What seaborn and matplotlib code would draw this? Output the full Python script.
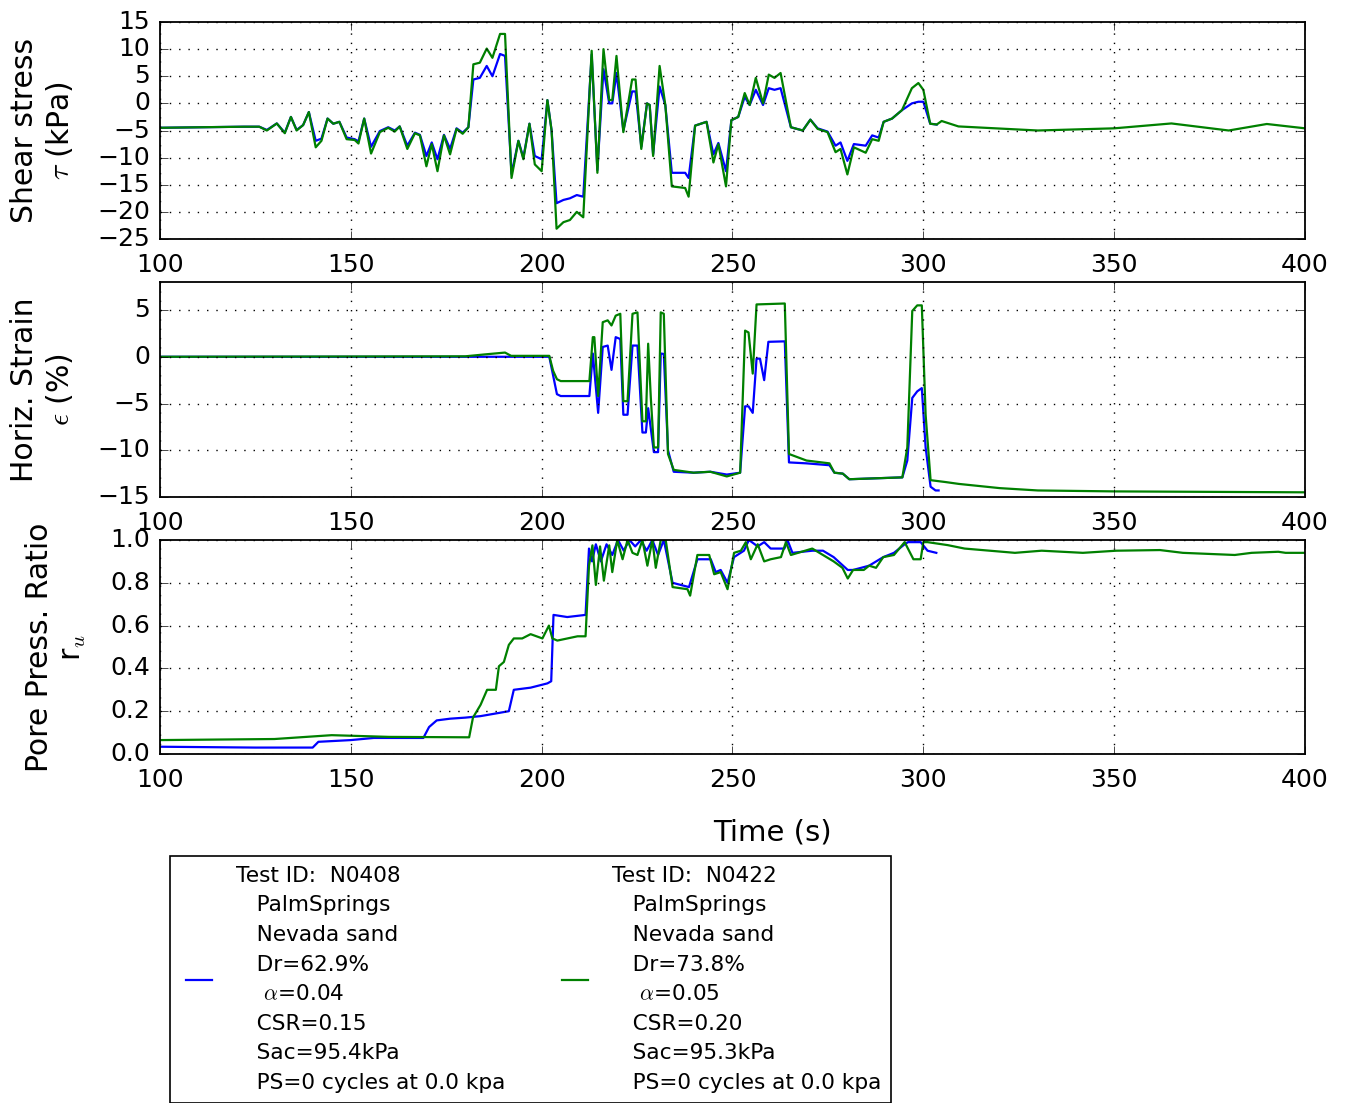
import pandas as pd
import matplotlib
matplotlib.use("Agg")
import matplotlib.pyplot as plt
import seaborn as sns

# two tests compared in the chart
tests = ["N0408", "N0422"]
colors = {"N0408": "#0000ff", "N0422": "#008000"}
dr = ["62.9", "73.8"]
alpha = ["0.04", "0.05"]
csr = ["0.15", "0.20"]
sac = ["95.4", "95.3"]

# shear stress (kPa)
shear_time = [100, 122, 126, 128, 130.6, 132.7, 134.3, 135.8, 137.5, 139, 140.8, 142.3,
              143.9, 145.4, 147, 148.9, 151, 152, 153.5, 155.3, 157.6, 159.8, 161.5, 162.8,
              164.8, 166.8, 168.1, 169.8, 171.2, 172.7, 174.4, 176, 177.7, 179.3, 180.8, 182.1,
              183.8, 185.6, 187.1, 189.1, 190.4, 192.1, 193.9, 195.2, 196.8, 198.2, 200, 201.5,
              202.6, 203.9, 205.7, 207.4, 209.2, 210.9, 213.1, 214.6, 216.2, 217.7, 218.5, 219.6,
              221.4, 223.7, 224.6, 226.1, 227.6, 228.3, 229.2, 230.9, 232.4, 234.1, 237.6, 238.5,
              240.2, 243.2, 245, 246.3, 248.3, 249.7, 251.5, 253.2, 254.5, 256.1, 258, 259.5,
              261, 262.6, 265.3, 268.4, 270.4, 272.3, 274.9, 277, 278.3, 280.1, 281.8, 284.9,
              286.6, 288.3, 289.6, 291.8, 294.4, 297, 298.7, 300, 301.8, 303.5,
              304.8, 309.2, 330, 350, 365, 380, 390, 400]
shear_n0422 = [-4.5, -4.3, -4.3, -5.0, -3.7, -5.5, -2.5, -5.0, -4.0, -1.6, -8.1, -6.9,
               -2.8, -3.75, -3.4, -6.6, -6.75, -7.4, -2.8, -9.25, -5.3, -4.5, -5.2, -4.25,
               -8.4, -5.5, -5.9, -11.6, -7.5, -12.5, -5.9, -9.4, -4.7, -5.6, -4.4, 7.2,
               7.5, 10.1, 8.4, 12.8, 12.8, -13.75, -6.9, -10.3, -3.75, -11.25, -12.5, 0.6,
               -5.0, -23.1, -21.9, -21.5, -20.0, -21.0, 9.7, -12.8, 10.0, 0.6, 0.6, 8.75,
               -5.3, 4.4, 4.4, -8.4, 0.0, -0.3, -9.7, 6.9, -0.3, -15.3, -15.6, -17.2,
               -4.1, -3.4, -10.9, -7.5, -15.3, -3.1, -2.5, 1.9, -0.3, 4.7, 0.0, 5.3,
               4.7, 5.6, -4.4, -5.0, -3.0, -4.7, -5.3, -9.0, -8.4, -13.1, -8.1, -9.1,
               -6.6, -6.9, -3.4, -2.8, -1.25, 2.8, 3.75, 2.5, -3.75, -3.9,
               -3.25, -4.25, -5.0, -4.6, -3.7, -5.0, -3.8, -4.6]
shear_n0408 = [-4.5, -4.3, -4.3, -4.9, -3.7, -5.4, -2.5, -4.9, -4.0, -1.6, -6.9, -6.5,
               -2.8, -3.75, -3.4, -6.3, -6.6, -7.0, -2.8, -8.0, -5.1, -4.4, -5.0, -4.25,
               -7.8, -5.4, -5.8, -9.7, -7.2, -10.3, -5.8, -8.4, -4.6, -5.4, -4.4, 4.4,
               4.7, 6.9, 5.0, 9.1, 8.75, -13.0, -6.9, -10.0, -3.75, -9.7, -10.3, 0.6,
               -5.0, -18.4, -17.8, -17.5, -16.9, -17.2, 9.0, -12.3, 6.3, 0.0, 0.0, 5.6,
               -5.0, 2.2, 2.2, -8.0, 0.0, -0.3, -9.4, 3.1, -0.3, -12.8, -12.8, -13.75,
               -4.1, -3.4, -9.4, -7.3, -12.5, -3.1, -2.5, 1.2, -0.3, 2.5, -0.3, 2.8,
               2.5, 2.8, -4.4, -5.0, -3.0, -4.6, -5.2, -7.8, -7.2, -10.6, -7.5, -7.8,
               -5.9, -6.3, -3.4, -2.8, -1.25, 0.0, 0.3, 0.3, -3.75, -3.9]

# horizontal strain (%)
strain_time_n0408 = [100, 202, 203, 204, 205, 212.5, 213.4, 214.8, 216, 217.3, 218.3, 219.4,
                     220.6, 221.4, 222.5, 223.8, 225.1, 226.4, 227.3, 227.9, 229.4, 230.5,
                     231.2, 232.0, 233.1, 234.6, 239.8, 244.2, 248.5, 252, 253.3, 254.2,
                     255.3, 256.3, 257.2, 258.3, 259.4, 263.7, 264.8, 269.4, 275.4, 276.7,
                     278.9, 280.6, 294.5, 295.8, 297.1, 298.4, 299.6, 300.6, 301.9, 303.2, 304]
strain_n0408 = [0.0, 0.0, -2.0, -4.0, -4.2, -4.2, 0.35, -6.0, 1.05, 1.2, -1.4, 2.1,
                1.9, -6.2, -6.2, 1.2, 1.2, -8.1, -8.1, -5.5, -10.2, -10.2,
                0.35, 0.3, -10.0, -12.3, -12.4, -12.3, -12.6, -12.4, -5.3, -5.3,
                -6.0, -0.2, -0.2, -2.5, 1.6, 1.65, -11.3, -11.4, -11.6, -12.4,
                -12.5, -13.1, -12.9, -11.1, -4.4, -3.7, -3.35, -9.7, -13.9, -14.3, -14.3]
strain_time_n0422 = [100, 180, 185, 190.4, 192, 202, 203, 204, 205, 212.5, 213.4, 213.8,
                     214.8, 216, 217.3, 218.3, 219.4, 220.6, 221.4, 222.5, 223.8, 225.1,
                     226.4, 227.3, 227.9, 228.6, 229.4, 230.5, 231.2, 232.0, 233.1, 234.6,
                     239.8, 244.2, 248.5, 252, 253.3, 254.2, 255.3, 256.3, 263.7, 264.8,
                     269.4, 275.4, 276.7, 278.9, 280.6, 294.5, 295.8, 297.1, 298.4, 299.6,
                     300.6, 301.9, 305.8, 309.3, 320, 330, 350, 400]
strain_n0422 = [0.0, 0.05, 0.25, 0.45, 0.1, 0.1, -1.5, -2.4, -2.6, -2.6, 2.1, 2.1,
                -4.2, 3.7, 3.9, 3.35, 4.4, 4.6, -4.75, -4.75, 4.6, 4.75,
                -6.9, -6.9, 1.4, -4.4, -9.7, -9.7, 4.75, 4.6, -10.4, -12.1,
                -12.4, -12.3, -12.8, -12.4, 2.8, 2.6, -1.8, 5.6, 5.7, -10.4,
                -11.1, -11.4, -12.4, -12.5, -13.1, -12.9, -9.7, 4.9, 5.5, 5.5,
                -6.2, -13.2, -13.4, -13.6, -14.05, -14.3, -14.4, -14.5]

# pore pressure ratio r_u
ru_time_n0408 = [100, 125, 140, 141.5, 150, 156, 169, 170.5, 172.5, 176, 180, 184, 191.4,
                 192.7, 197.1, 201.5, 202.5, 203.1, 206.7, 211.5, 212.4, 213.2, 214.2, 215.5,
                 217, 218.5, 220, 221.5, 223, 224.5, 226, 227.5, 229, 230.5, 232, 234.3,
                 238.6, 240.8, 244.3, 245.6, 246.9, 248.7, 250.4, 253, 254.3, 256.6, 258.3,
                 260, 263.6, 264.4, 265.7, 270.9, 273.7, 276.5, 280.2, 281.6, 285.8, 289.5,
                 292.3, 295.1, 296, 299.3, 300.2, 301.1, 303.4]
ru_n0408 = [0.034, 0.03, 0.03, 0.057, 0.065, 0.075, 0.075, 0.126, 0.157, 0.165, 0.17, 0.177,
            0.2, 0.3, 0.31, 0.33, 0.34, 0.65, 0.64, 0.65, 0.96, 0.9, 0.98, 0.9,
            0.98, 0.93, 1.0, 0.95, 1.0, 0.97, 1.0, 0.95, 1.0, 0.93, 1.0, 0.8,
            0.78, 0.91, 0.91, 0.85, 0.86, 0.8, 0.92, 0.95, 1.0, 0.97, 0.99,
            0.96, 0.96, 1.0, 0.94, 0.95, 0.95, 0.92, 0.86, 0.86, 0.88, 0.92,
            0.94, 0.98, 0.99, 0.99, 0.97, 0.95, 0.94]
ru_time_n0422 = [100, 130, 145, 160, 181, 182, 184, 185.7, 188, 188.8, 190.1, 191.4, 192.7,
                 194.9, 197.1, 200.2, 201.9, 202.8, 204.1, 209.4, 211.5, 212.4, 213.3, 214.2,
                 215.3, 216.3, 217.7, 218.5, 219.8, 221.2, 222.5, 223.8, 225.1, 226.4, 227.7,
                 229.0, 229.9, 231.2, 232.5, 234.3, 238.2, 238.9, 240.8, 243.9, 245.2, 246.9,
                 248.7, 250.4, 252.2, 253.5, 254.8, 256.6, 258.3, 260, 262.7, 264, 265.3,
                 270.9, 273.7, 276.5, 278.8, 280.2, 281.6, 284.4, 285.8, 287.6, 289.5, 292.3,
                 295.1, 297.4, 299.3, 300, 301.1, 306.4, 310.8, 324, 331, 341.8, 350.6, 362,
                 368, 381.6, 386, 393, 394.9, 400]
ru_n0422 = [0.065, 0.07, 0.088, 0.08, 0.078, 0.17, 0.23, 0.3, 0.3, 0.41, 0.43, 0.51, 0.54,
            0.54, 0.56, 0.54, 0.6, 0.54, 0.53, 0.55, 0.55, 0.88, 0.975, 0.79,
            0.97, 0.81, 0.975, 0.85, 1.0, 0.91, 1.0, 0.94, 0.93, 1.0, 0.88,
            1.0, 0.87, 1.0, 1.0, 0.78, 0.77, 0.74, 0.93, 0.93, 0.84, 0.85,
            0.77, 0.94, 0.95, 0.99, 0.91, 0.98, 0.9, 0.91, 0.92, 0.99, 0.93,
            0.96, 0.93, 0.9, 0.87, 0.82, 0.86, 0.86, 0.88, 0.87, 0.92, 0.93,
            0.99, 0.91, 0.91, 0.99, 0.99, 0.976, 0.96, 0.94, 0.95, 0.94, 0.95, 0.953,
            0.94, 0.93, 0.94, 0.945, 0.94, 0.94]


def long_frame(parts):
    frames = [pd.DataFrame({"time": t, "value": v, "test": name}) for name, t, v in parts]
    return pd.concat(frames, ignore_index=True)


shear_df = long_frame([("N0408", shear_time[:len(shear_n0408)], shear_n0408),
                       ("N0422", shear_time, shear_n0422)])
strain_df = long_frame([("N0408", strain_time_n0408, strain_n0408),
                        ("N0422", strain_time_n0422, strain_n0422)])
ru_df = long_frame([("N0408", ru_time_n0408, ru_n0408),
                    ("N0422", ru_time_n0422, ru_n0422)])

plt.style.use("classic")
plt.rcParams["figure.facecolor"] = "white"
plt.rcParams["savefig.facecolor"] = "white"
plt.rcParams["axes.linewidth"] = 1.3

fig = plt.figure(figsize=(13.5, 11.03), dpi=100)
W, H = 1350, 1103
boxes = [(22, 239), (282, 497), (540, 754)]
axes = [fig.add_axes([160 / W, 1 - b / H, 1145 / W, (b - t) / H]) for t, b in boxes]

panels = [
    (shear_df, "Shear stress\n$\\tau$ (kPa)", (-25, 15), [-25, -20, -15, -10, -5, 0, 5, 10, 15]),
    (strain_df, "Horiz. Strain\n$\\epsilon$ (%)", (-15, 8), [-15, -10, -5, 0, 5]),
    (ru_df, "Pore Press. Ratio\nr$_u$", (0, 1), [0.0, 0.2, 0.4, 0.6, 0.8, 1.0]),
]

for ax, (df, label, ylim, yticks) in zip(axes, panels):
    sns.lineplot(data=df, x="time", y="value", hue="test", hue_order=tests,
                 palette=colors, estimator=None, sort=False, lw=1.6, ax=ax,
                 legend=(ax is axes[-1]))
    ax.set_xlim(100, 400)
    ax.set_ylim(*ylim)
    ax.set_xticks([100, 150, 200, 250, 300, 350, 400])
    ax.set_yticks(yticks)
    if ylim == (0, 1):
        ax.set_yticklabels([f"{v:.1f}" for v in yticks])
    ax.grid(True, linestyle=(0, (1, 5.7)), color="black", linewidth=1.0)
    ax.tick_params(labelsize=18, direction="in", length=6, top=True, right=True)
    ax.tick_params(axis="x", pad=10)
    ax.tick_params(axis="y", pad=7)
    ax.set_xlabel("")
    ax.set_ylabel(label, fontsize=21.5, labelpad=16)

fig.text(772 / W, 1 - 833 / H, "Time (s)", fontsize=21, ha="center", va="center")

handles, _ = axes[-1].get_legend_handles_labels()
axes[-1].get_legend().remove()
labels = []
for i, tid in enumerate(tests):
    labels.append(f"Test ID:  {tid}\n   PalmSprings\n   Nevada sand\n   Dr={dr[i]}%\n"
                  f"    $\\alpha$={alpha[i]}\n   CSR={csr[i]}\n   Sac={sac[i]}kPa\n"
                  f"   PS=0 cycles at 0.0 kpa")
leg = fig.legend(handles, labels, loc="upper left", bbox_to_anchor=(170 / W, 1 - 856 / H),
                 ncol=2, fontsize=15.6, frameon=True, fancybox=False, borderaxespad=0,
                 handlelength=1.8, handletextpad=0.8, columnspacing=2.3, borderpad=0.45)
leg.get_frame().set_linewidth(1.2)
leg.get_frame().set_edgecolor("black")
for txt in leg.get_texts():
    txt.set_linespacing(1.6)

fig.savefig("out.png", dpi=100)
